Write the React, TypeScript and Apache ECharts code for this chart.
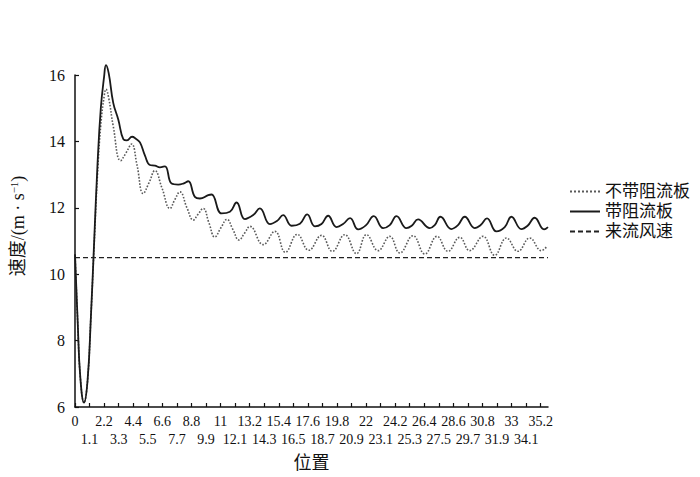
import React, { useEffect, useRef } from "react";
import * as echarts from "echarts";

// x-axis tick labels (位置)
const xTickLabels = [
  "0", "1.1", "2.2", "3.3", "4.4", "5.5", "6.6", "7.7", "8.8", "9.9", "11",
  "12.1", "13.2", "14.3", "15.4", "16.5", "17.6", "18.7", "19.8", "20.9", "22",
  "23.1", "24.2", "25.3", "26.4", "27.5", "28.6", "29.7", "30.8", "31.9", "33",
  "34.1", "35.2",
];
const xTickValues = xTickLabels.map(Number);
const xEvenTicks = xTickValues.filter((_, i) => i % 2 === 0);
const xOddTicks = xTickValues.filter((_, i) => i % 2 === 1);

// 带阻流板 (with plate) — solid line
const withPlateX = [
  0, 0.2, 0.4, 0.68, 0.95, 1.2, 1.45, 1.7, 1.95, 2.2, 2.34, 2.55, 2.89, 3.27,
  3.65, 3.93, 4.31, 4.6, 4.91, 5.29, 5.66, 6.04, 6.42, 6.8, 7.3, 7.8, 8.18,
  8.56, 9.06, 9.44, 10.07, 10.32, 11.08, 11.71, 12.21, 12.84, 13.47, 13.97,
  14.73, 15.26, 15.73, 16.37, 17.0, 17.55, 18.13, 18.63, 19.13, 19.77, 20.26,
  20.79, 21.4, 21.98, 22.58, 23.29, 23.79, 24.3, 25.05, 25.45, 25.93, 26.81,
  27.19, 27.62, 28.45, 28.93, 29.46, 30.21, 30.66, 31.14, 31.85, 32.48, 32.98,
  33.74, 34.21, 34.74, 35.45, 35.75,
];
const withPlateY = [
  10.6, 8.6, 6.9, 6.13, 6.8, 8.7, 11.0, 13.3, 15.0, 15.95, 16.3, 16.05, 15.16,
  14.66, 14.07, 14.03, 14.14, 14.08, 13.97, 13.57, 13.29, 13.27, 13.22, 13.25,
  12.73, 12.7, 12.73, 12.8, 12.33, 12.28, 12.38, 12.4, 11.83, 11.88, 12.16,
  11.66, 11.78, 11.98, 11.51, 11.6, 11.78, 11.46, 11.52, 11.8, 11.44, 11.51,
  11.76, 11.42, 11.51, 11.69, 11.35, 11.47, 11.75, 11.39, 11.48, 11.75, 11.39,
  11.46, 11.65, 11.39, 11.48, 11.73, 11.36, 11.47, 11.73, 11.39, 11.48, 11.68,
  11.29, 11.42, 11.73, 11.36, 11.46, 11.7, 11.35, 11.42,
];

// 不带阻流板 (without plate) — dotted line
const noPlateX = [
  0, 0.2, 0.4, 0.68, 0.95, 1.2, 1.45, 1.7, 1.95, 2.2, 2.34, 2.55, 2.89, 3.45,
  3.85, 4.28, 4.68, 5.16, 5.59, 6.04, 6.57, 7.18, 7.55, 7.93, 8.46, 8.94, 9.29,
  9.69, 10.12, 10.57, 11.03, 11.48, 11.93, 12.39, 12.84, 13.22, 14.22, 15.11,
  15.9, 16.8, 17.67, 18.63, 19.45, 20.39, 21.28, 22.03, 22.91, 23.79, 24.55,
  25.55, 26.44, 27.36, 28.19, 29.08, 29.83, 30.84, 31.72, 32.61, 33.48, 34.37,
  35.25, 35.67,
];
const noPlateY = [
  10.6, 8.6, 6.9, 6.13, 6.8, 8.7, 10.9, 13.0, 14.5, 15.35, 15.57, 15.3, 14.46,
  13.42, 13.65, 13.92, 13.3, 12.43, 12.75, 13.12, 12.6, 11.98, 12.25, 12.48,
  12.0, 11.63, 11.8, 11.98, 11.55, 11.12, 11.4, 11.65, 11.35, 11.03, 11.25,
  11.44, 10.89, 11.29, 10.66, 11.2, 10.72, 11.17, 10.69, 11.19, 10.62, 11.19,
  10.71, 11.14, 10.64, 11.16, 10.61, 11.14, 10.69, 11.11, 10.71, 11.14, 10.57,
  11.09, 10.69, 11.09, 10.71, 10.84,
];

// 来流风速 (incoming wind speed) — dashed line
const windX = [0, 35.75];
const windY = [10.5, 10.5];

const seriesNames = ["不带阻流板", "带阻流板", "来流风速"];

const zip = (xs: number[], ys: number[]) => xs.map((x, i) => [x, ys[i]]);

const SERIF = "'Liberation Serif', 'Times New Roman', serif";
const MIXED = "'Liberation Serif', 'Noto Sans CJK SC', serif";

const labelFor = (v: number) => {
  const i = xTickValues.findIndex((t) => Math.abs(t - v) < 1e-6);
  return i < 0 ? "" : xTickLabels[i];
};

export default function App() {
  const ref = useRef<HTMLDivElement>(null);
  useEffect(() => {
    if (!ref.current) return;
    const chart = echarts.init(ref.current, null, { renderer: "svg" });
    const baseX = {
      type: "value",
      min: 0,
      max: 35.75,
      position: "bottom",
      splitLine: { show: false },
    };
    chart.setOption({
      animation: false,
      backgroundColor: "#fff",
      grid: { left: 75, right: 152, top: 75, bottom: 66 },
      legend: {
        orient: "vertical",
        left: 564,
        top: 178,
        itemWidth: 30,
        itemHeight: 14,
        itemGap: 3,
        data: seriesNames,
        itemStyle: { opacity: 0 },
        textStyle: { fontFamily: MIXED, fontSize: 17, color: "#111" },
      },
      xAxis: [
        {
          ...baseX,
          name: "位置",
          nameLocation: "middle",
          nameGap: 47,
          nameTextStyle: { fontFamily: MIXED, fontSize: 18, color: "#111" },
          axisLine: { lineStyle: { color: "#111", width: 1.5 } },
          axisTick: {
            inside: true,
            length: 4,
            customValues: xTickValues,
            lineStyle: { color: "#111", width: 1.2 },
          },
          axisLabel: {
            customValues: xEvenTicks,
            showMinLabel: true,
            showMaxLabel: true,
            margin: 7,
            fontFamily: SERIF,
            fontSize: 14,
            color: "#111",
            formatter: labelFor,
          },
        },
        {
          ...baseX,
          axisLine: { show: false },
          axisTick: { show: false },
          axisLabel: {
            customValues: xOddTicks,
            showMinLabel: true,
            showMaxLabel: true,
            margin: 25,
            fontFamily: SERIF,
            fontSize: 14,
            color: "#111",
            formatter: labelFor,
          },
        },
      ],
      yAxis: {
        type: "value",
        min: 6,
        max: 16,
        interval: 2,
        splitLine: { show: false },
        axisLine: { show: true, lineStyle: { color: "#111", width: 1.5 } },
        axisTick: { show: true, inside: true, length: 4, lineStyle: { color: "#111", width: 1.2 } },
        axisLabel: { fontFamily: SERIF, fontSize: 16, color: "#111", margin: 10 },
      },
      graphic: [
        {
          type: "text",
          x: 18,
          y: 226,
          rotation: Math.PI / 2,
          style: {
            text: "速度/(m · s{sup|−1})",
            font: `18px ${MIXED}`,
            fill: "#111",
            align: "center",
            verticalAlign: "middle",
            rich: {
              sup: { fontSize: 11, fontFamily: SERIF, verticalAlign: "top", padding: [0, 0, 8, 0], fill: "#111" },
            },
          },
        },
      ],
      series: [
        {
          name: seriesNames[0],
          type: "line",
          xAxisIndex: 0,
          data: zip(noPlateX, noPlateY),
          smooth: 0.45,
          clip: false,
          showSymbol: false,
          symbol: "none",
          lineStyle: { color: "#5a5a5a", width: 1.6, type: "dotted" },
          itemStyle: { color: "#5a5a5a" },
          z: 2,
        },
        {
          name: seriesNames[1],
          type: "line",
          xAxisIndex: 0,
          data: zip(withPlateX, withPlateY),
          smooth: 0.45,
          clip: false,
          showSymbol: false,
          symbol: "none",
          lineStyle: { color: "#1a1a1a", width: 1.8, type: "solid" },
          itemStyle: { color: "#1a1a1a" },
          z: 3,
        },
        {
          name: seriesNames[2],
          type: "line",
          xAxisIndex: 0,
          data: zip(windX, windY),
          clip: false,
          showSymbol: false,
          symbol: "none",
          lineStyle: { color: "#222", width: 1.2, type: [5, 3] },
          itemStyle: { color: "#222" },
          z: 1,
        },
      ],
    });
    return () => chart.dispose();
  }, []);
  return (
    <div
      ref={ref}
      style={{ position: "fixed", left: 0, top: 0, width: 700, height: 477, background: "#fff" }}
    />
  );
}
